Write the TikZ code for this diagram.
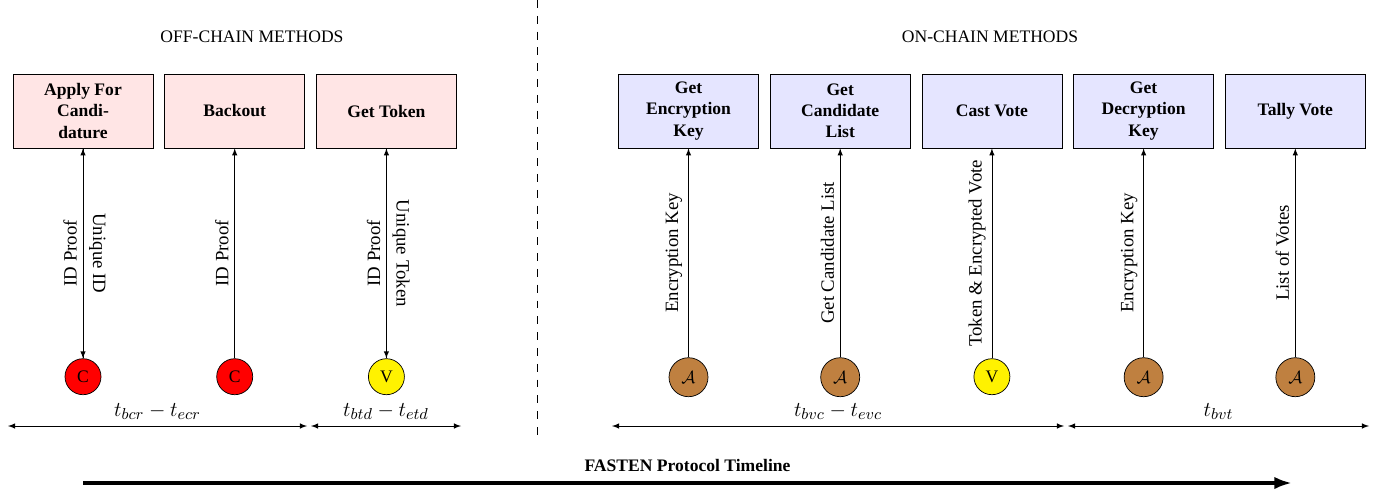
\documentclass[tikz,border=0pt]{standalone}
\usepackage{fontspec}
\setmainfont{Liberation Serif}
\usepackage{amsmath}
\usepackage{amssymb}
\usetikzlibrary{arrows}
\usetikzlibrary{arrows.meta}
\usetikzlibrary{positioning}
\tikzset{offbox/.style = {draw, fill=red!10, minimum width=2.8cm, minimum height=1.48cm, align=center, font=\bfseries}}
\tikzset{onbox/.style = {draw, fill=blue!10, minimum width=2.8cm, minimum height=1.48cm, align=center, font=\bfseries}}
\tikzset{party/.style = {draw, circle, inner sep=0, minimum size=0.72cm}}
\tikzset{auditor/.style = {party, fill=brown, minimum size=0.78cm}}
\tikzset{msg/.style = {midway, above, sloped, font=\fontsize{10.7}{13}\selectfont}}
\tikzset{window/.style = {above, font=\fontsize{12.8}{15}\selectfont}}

\begin{document}
\begin{tikzpicture}[>=latex]
  \useasboundingbox (0,0) rectangle (27.92,-9.84);

  \node (offhead) at (5.04,-0.74) {OFF-CHAIN METHODS};
  \node (onhead) at (19.8,-0.74) {ON-CHAIN METHODS};

  % off-chain methods
  \node [offbox] (apply) at (1.66,-2.22) {Apply For\\Candi-\\dature};
  \node [offbox, right=0.22cm of apply] (backout) {Backout};
  \node [offbox, right=0.22cm of backout] (token) {Get Token};

  \node [party, fill=red, below=4.2cm of apply] (capply) {C};
  \node [party, fill=red, below=4.2cm of backout] (cbackout) {C};
  \node [party, fill=yellow, below=4.2cm of token] (ctoken) {V};

  \draw [->] (capply) -- node [msg] {ID Proof} (apply);
  \draw [->] (apply) -- node [msg] {Unique ID} (capply);
  \draw [->] (cbackout) -- node [msg] {ID Proof} (backout);
  \draw [->] (ctoken) -- node [msg] {ID Proof} (token);
  \draw [->] (token) -- node [msg] {Unique Token} (ctoken);

  % on-chain methods
  \node [onbox] (enckey) at (13.77,-2.22) {Get\\Encryption\\Key};
  \node [onbox, right=0.22cm of enckey] (candlist) {Get\\Candidate\\List};
  \node [onbox, right=0.22cm of candlist] (cast) {Cast Vote};
  \node [onbox, right=0.22cm of cast] (deckey) {Get\\Decryption\\Key};
  \node [onbox, right=0.22cm of deckey] (tally) {Tally Vote};

  \node [auditor, below=4.18cm of enckey] (aenckey) {$\mathcal{A}$};
  \node [auditor, below=4.18cm of candlist] (acandlist) {$\mathcal{A}$};
  \node [party, fill=yellow, below=4.2cm of cast] (vcast) {V};
  \node [auditor, below=4.18cm of deckey] (adeckey) {$\mathcal{A}$};
  \node [auditor, below=4.18cm of tally] (atally) {$\mathcal{A}$};

  \draw [->] (aenckey) -- node [msg] {Encryption Key} (enckey);
  \draw [->] (acandlist) -- node [msg] {Get Candidate List} (candlist);
  \draw [->] (vcast) -- node [msg] {Token \& Encrypted Vote} (cast);
  \draw [->] (adeckey) -- node [msg] {Encryption Key} (deckey);
  \draw [->] (atally) -- node [msg] {List of Votes} (tally);

  % time windows
  \coordinate (w1) at (0.16,-8.52);
  \coordinate (w2) at (6.14,-8.52);
  \coordinate (w3) at (6.22,-8.52);
  \coordinate (w4) at (9.22,-8.52);
  \coordinate (w5) at (12.24,-8.52);
  \coordinate (w6) at (21.28,-8.52);
  \coordinate (w7) at (21.36,-8.52);
  \coordinate (w8) at (27.38,-8.52);
  \draw [<->] (w1) -- node [window] {$t_{bcr} - t_{ecr}$} (w2);
  \draw [<->] (w3) -- node [window] {$t_{btd} - t_{etd}$} (w4);
  \draw [<->] (w5) -- node [window] {$t_{bvc} - t_{evc}$} (w6);
  \draw [<->] (w7) -- node [window] {$t_{bvt}$} (w8);

  % divider
  \coordinate (top) at (10.74,0);
  \coordinate (bottom) at (10.74,-8.78);
  \draw [dash pattern=on 4.5pt off 4.5pt] (top) -- (bottom);

  % timeline
  \coordinate (tstart) at (1.66,-9.66);
  \coordinate (tend) at (25.84,-9.66);
  \draw [line width=2pt, -{Latex[length=10pt, width=7pt]}] (tstart) -- node [above=2pt, font=\bfseries] {FASTEN Protocol Timeline} (tend);
\end{tikzpicture}
\end{document}
